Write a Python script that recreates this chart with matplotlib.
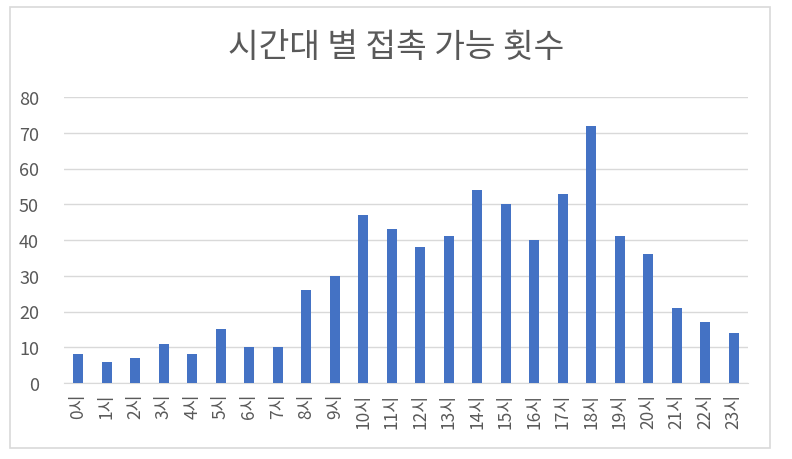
import matplotlib.pyplot as plt
from matplotlib.patches import Rectangle

plt.rcParams['font.family'] = ['Noto Sans CJK KR', 'DejaVu Sans']

hours = [f'{h}시' for h in range(24)]
counts = [8, 6, 7, 11, 8, 15, 10, 10, 26, 30, 47, 43,
          38, 41, 54, 50, 40, 53, 72, 41, 36, 21, 17, 14]
y_ticks = [0, 10, 20, 30, 40, 50, 60, 70, 80]

W, H = 792, 460
fig = plt.figure(figsize=(W / 100, H / 100), dpi=100)
fig.patch.set_facecolor('white')

# 차트 외곽 테두리
fig.add_artist(Rectangle((10 / W, 1 - 449 / H), 760 / W, 441 / H,
                         transform=fig.transFigure, fill=False,
                         edgecolor='#d9d9d9', linewidth=1.2))

ax = fig.add_axes([64 / W, 1 - 384 / H, 684 / W, 286 / H])
ax.bar(range(len(hours)), counts, width=0.34, color='#4472c4', zorder=3)

ax.set_xlim(-0.5, len(hours) - 0.5)
ax.set_ylim(0, 80)
ax.set_yticks(y_ticks)
ax.set_xticks(range(len(hours)))
ax.set_xticklabels(hours, rotation=90, va='top', ha='center')
ax.tick_params(axis='x', length=0, pad=7, labelsize=12.5, colors='#595959')
ax.tick_params(axis='y', length=0, pad=18, labelsize=13, colors='#595959')
ax.grid(axis='y', color='#d9d9d9', linewidth=1, zorder=0)
for side in ['top', 'right', 'left']:
    ax.spines[side].set_visible(False)
ax.spines['bottom'].set_color('#d9d9d9')

fig.text(0.5, 1 - 48 / H, '시간대 별 접촉 가능 횟수', ha='center', va='center',
         fontsize=24, color='#595959')

fig.savefig('out.png', dpi=100)
